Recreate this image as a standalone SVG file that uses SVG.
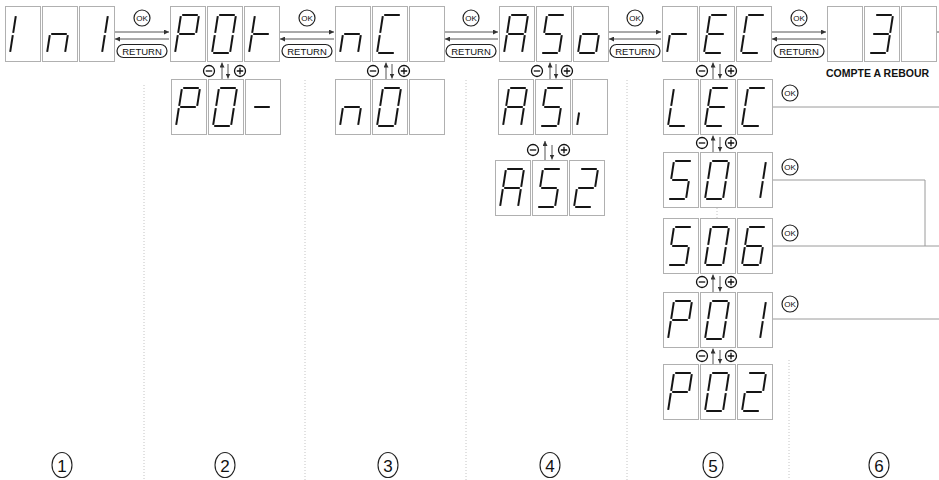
<svg xmlns="http://www.w3.org/2000/svg" xmlns:xlink="http://www.w3.org/1999/xlink" width="939" height="480" viewBox="0 0 939 480">
<style>
.s{fill:none;stroke:#151515;stroke-width:2}
.bx{fill:#fff;stroke:#b0b0b0;stroke-width:1}
.ar{fill:none;stroke:#555;stroke-width:1}
.ln{fill:none;stroke:#9a9a9a;stroke-width:1}
.sep{fill:none;stroke:#c4c4c4;stroke-width:1;stroke-dasharray:1 2}
.btn{fill:#fff;stroke:#222;stroke-width:1.2}
.t{font-family:"Liberation Sans",Arial,sans-serif;fill:#111;text-anchor:middle}
.pm{fill:#fff;stroke:#111;stroke-width:1.3}
.num{fill:#fff;stroke:#222;stroke-width:1.1}
</style>
<defs>
<marker id="ah" viewBox="0 0 6 6" refX="6" refY="3" markerWidth="5" markerHeight="5" orient="auto" markerUnits="userSpaceOnUse"><path d="M0 0L6 3L0 6z" fill="#333"/></marker>
<path id="sa" class="s" d="M12.2 9H27.8"/>
<path id="sb" class="s" d="M28.8 10.2L26.2 26.8"/>
<path id="sc" class="s" d="M25.8 29.2L23.2 45.8"/>
<path id="sd" class="s" d="M6.2 47H21.8"/>
<path id="se" class="s" d="M7.8 29.2L5.2 45.8"/>
<path id="sf" class="s" d="M10.8 10.2L8.2 26.8"/>
<path id="sg" class="s" d="M9.2 28H24.8"/>
<path id="si" class="s" d="M7.1 33.5L5.2 45.8"/>
<g id="gIl"><use href="#se"/><use href="#sf"/></g>
<g id="g1"><use href="#sb"/><use href="#sc"/></g>
<g id="gn"><use href="#sc"/><use href="#se"/><use href="#sg"/></g>
<g id="gP"><use href="#sa"/><use href="#sb"/><use href="#se"/><use href="#sf"/><use href="#sg"/></g>
<g id="g0"><use href="#sa"/><use href="#sb"/><use href="#sc"/><use href="#sd"/><use href="#se"/><use href="#sf"/></g>
<g id="gt"><use href="#se"/><use href="#sf"/><use href="#sg"/></g>
<g id="gm"><use href="#sg"/></g>
<g id="gC"><use href="#sa"/><use href="#sd"/><use href="#se"/><use href="#sf"/></g>
<g id="gA"><use href="#sa"/><use href="#sb"/><use href="#sc"/><use href="#se"/><use href="#sf"/><use href="#sg"/></g>
<g id="g5"><use href="#sa"/><use href="#sc"/><use href="#sd"/><use href="#sf"/><use href="#sg"/></g>
<g id="go"><use href="#sc"/><use href="#sd"/><use href="#se"/><use href="#sg"/></g>
<g id="g2"><use href="#sa"/><use href="#sb"/><use href="#sg"/><use href="#se"/><use href="#sd"/></g>
<g id="gr"><use href="#se"/><use href="#sg"/></g>
<g id="gE"><use href="#sa"/><use href="#sd"/><use href="#se"/><use href="#sf"/><use href="#sg"/></g>
<g id="gL"><use href="#sd"/><use href="#se"/><use href="#sf"/></g>
<g id="g6"><use href="#sa"/><use href="#sc"/><use href="#sd"/><use href="#se"/><use href="#sf"/><use href="#sg"/></g>
<g id="g3"><use href="#sa"/><use href="#sb"/><use href="#sc"/><use href="#sd"/><use href="#sg"/></g>
<g id="gi"><use href="#si"/></g>
<g id="fr"><rect class="bx" x="0.5" y="0.5" width="35" height="55"/><rect class="bx" x="37.5" y="0.5" width="35" height="55"/><rect class="bx" x="74.5" y="0.5" width="35" height="55"/></g>
<g id="ok"><circle class="btn" r="8"/><text class="t" y="3" font-size="8">OK</text></g>
<g id="ret"><rect class="btn" x="-25" y="-6.5" width="50" height="13" rx="6.5"/><text class="t" y="3.5" font-size="9.5">RETURN</text></g>
<g id="minus"><circle class="pm" r="5.5"/><path class="pm" d="M-3.2 0H3.2"/></g>
<g id="plus"><circle class="pm" r="5.5"/><path class="pm" d="M-3.2 0H3.2M0 -3.2V3.2"/></g>
</defs>
<rect width="939" height="480" fill="#fff"/>

<g id="separators">
<path class="sep" d="M144 85V480M305 80V480M466 80V480M627 80V480M789 360V480"/>
</g>

<g id="connectors">
<path class="ar" d="M115 32H169" marker-end="url(#ah)"/>
<path class="ar" d="M169 39H115" marker-end="url(#ah)"/>
<path class="ar" d="M280 32H334" marker-end="url(#ah)"/>
<path class="ar" d="M334 39H280" marker-end="url(#ah)"/>
<path class="ar" d="M445 32H498" marker-end="url(#ah)"/>
<path class="ar" d="M498 39H445" marker-end="url(#ah)"/>
<path class="ar" d="M609 32H661" marker-end="url(#ah)"/>
<path class="ar" d="M661 39H609" marker-end="url(#ah)"/>
<path class="ar" d="M772 32H826" marker-end="url(#ah)"/>
<path class="ar" d="M826 39H772" marker-end="url(#ah)"/>
<path class="ar" d="M936 32H939"/>
<use href="#ok" x="142" y="18"/><use href="#ret" x="142" y="51"/>
<use href="#ok" x="307" y="18"/><use href="#ret" x="307" y="51"/>
<use href="#ok" x="471" y="18"/><use href="#ret" x="471" y="51"/>
<use href="#ok" x="635" y="18"/><use href="#ret" x="635" y="51"/>
<use href="#ok" x="799" y="18"/><use href="#ret" x="799" y="51"/>
<path class="ar" d="M222 79V62.5" marker-end="url(#ah)"/><path class="ar" d="M228 64V78.5" marker-end="url(#ah)"/>
<use href="#minus" x="209" y="71"/><use href="#plus" x="240" y="71"/>
<path class="ar" d="M386 79V62.5" marker-end="url(#ah)"/><path class="ar" d="M392 64V78.5" marker-end="url(#ah)"/>
<use href="#minus" x="373" y="71"/><use href="#plus" x="404" y="71"/>
<path class="ar" d="M550 79V62.5" marker-end="url(#ah)"/><path class="ar" d="M556 64V78.5" marker-end="url(#ah)"/>
<use href="#minus" x="537" y="71"/><use href="#plus" x="567" y="71"/>
<path class="ar" d="M545 160V141" marker-end="url(#ah)"/><path class="ar" d="M552 145V159.5" marker-end="url(#ah)"/>
<use href="#minus" x="533" y="150"/><use href="#plus" x="564" y="150"/>
<path class="ar" d="M713 79V62.5" marker-end="url(#ah)"/><path class="ar" d="M720 64V78.5" marker-end="url(#ah)"/>
<use href="#minus" x="702" y="71"/><use href="#plus" x="731" y="71"/>
<path class="ar" d="M713 152V135.5" marker-end="url(#ah)"/><path class="ar" d="M720 137V151.5" marker-end="url(#ah)"/>
<use href="#minus" x="702" y="143"/><use href="#plus" x="731" y="143"/>
<path class="sep" d="M717 208V218"/>
<path class="ar" d="M713 292V274.5" marker-end="url(#ah)"/><path class="ar" d="M720 276V291.5" marker-end="url(#ah)"/>
<use href="#minus" x="702" y="282"/><use href="#plus" x="731" y="282"/>
<path class="ar" d="M713 364V348.5" marker-end="url(#ah)"/><path class="ar" d="M720 350V363.5" marker-end="url(#ah)"/>
<use href="#minus" x="702" y="356"/><use href="#plus" x="731" y="356"/>
<path class="ln" d="M773 107H939"/>
<path class="ln" d="M773 180H925V246"/>
<path class="ln" d="M773 246H939"/>
<path class="ln" d="M773 319H939"/>
<use href="#ok" x="790" y="93"/>
<use href="#ok" x="790" y="167"/>
<use href="#ok" x="790" y="233"/>
<use href="#ok" x="790" y="304"/>
</g>

<g id="n-ini" transform="translate(5,6)"><use href="#fr"/><use href="#gIl"/><use href="#gn" x="37"/><use href="#g1" x="74"/></g>
<g id="n-pot" transform="translate(170,6)"><use href="#fr"/><use href="#gP"/><use href="#g0" x="37"/><use href="#gt" x="74"/></g>
<g id="n-po" transform="translate(171,79)"><use href="#fr"/><use href="#gP"/><use href="#g0" x="37"/><use href="#gm" x="74"/></g>
<g id="n-nc" transform="translate(335,6)"><use href="#fr"/><use href="#gn"/><use href="#gC" x="37"/></g>
<g id="n-no" transform="translate(335,79)"><use href="#fr"/><use href="#gn"/><use href="#g0" x="37"/></g>
<g id="n-aso" transform="translate(499,6)"><use href="#fr"/><use href="#gA"/><use href="#g5" x="37"/><use href="#go" x="74"/></g>
<g id="n-as1" transform="translate(498,79)"><use href="#fr"/><use href="#gA"/><use href="#g5" x="37"/><use href="#gi" x="74"/></g>
<g id="n-as2" transform="translate(495,160)"><use href="#fr"/><use href="#gA"/><use href="#g5" x="37"/><use href="#g2" x="74"/></g>
<g id="n-rec" transform="translate(662,6)"><use href="#fr"/><use href="#gr"/><use href="#gE" x="37"/><use href="#gC" x="74"/></g>
<g id="n-lec" transform="translate(663,79)"><use href="#fr"/><use href="#gL"/><use href="#gE" x="37"/><use href="#gC" x="74"/></g>
<g id="n-s01" transform="translate(663,152)"><use href="#fr"/><use href="#g5"/><use href="#g0" x="37"/><use href="#g1" x="74"/></g>
<g id="n-s06" transform="translate(663,218)"><use href="#fr"/><use href="#g5"/><use href="#g0" x="37"/><use href="#g6" x="74"/></g>
<g id="n-p01" transform="translate(663,292)"><use href="#fr"/><use href="#gP"/><use href="#g0" x="37"/><use href="#g1" x="74"/></g>
<g id="n-p02" transform="translate(663,364)"><use href="#fr"/><use href="#gP"/><use href="#g0" x="37"/><use href="#g2" x="74"/></g>
<g id="n-count" transform="translate(827,6)"><use href="#fr"/><use href="#g3" x="37"/></g>
<g id="lbl-count"><text x="826" y="77" font-family="Liberation Sans, Arial, sans-serif" font-size="10.5" font-weight="bold" fill="#111">COMPTE A REBOUR</text></g>

<g id="steps">
<ellipse class="num" cx="62" cy="465" rx="10" ry="12.5"/><text class="t" x="62" y="471.5" font-size="17">1</text>
<ellipse class="num" cx="225" cy="465" rx="10" ry="12.5"/><text class="t" x="225" y="471.5" font-size="17">2</text>
<ellipse class="num" cx="388" cy="465" rx="10" ry="12.5"/><text class="t" x="388" y="471.5" font-size="17">3</text>
<ellipse class="num" cx="550" cy="465" rx="10" ry="12.5"/><text class="t" x="550" y="471.5" font-size="17">4</text>
<ellipse class="num" cx="713" cy="465" rx="10" ry="12.5"/><text class="t" x="713" y="471.5" font-size="17">5</text>
<ellipse class="num" cx="879" cy="465" rx="10" ry="12.5"/><text class="t" x="879" y="471.5" font-size="17">6</text>
</g>
</svg>
